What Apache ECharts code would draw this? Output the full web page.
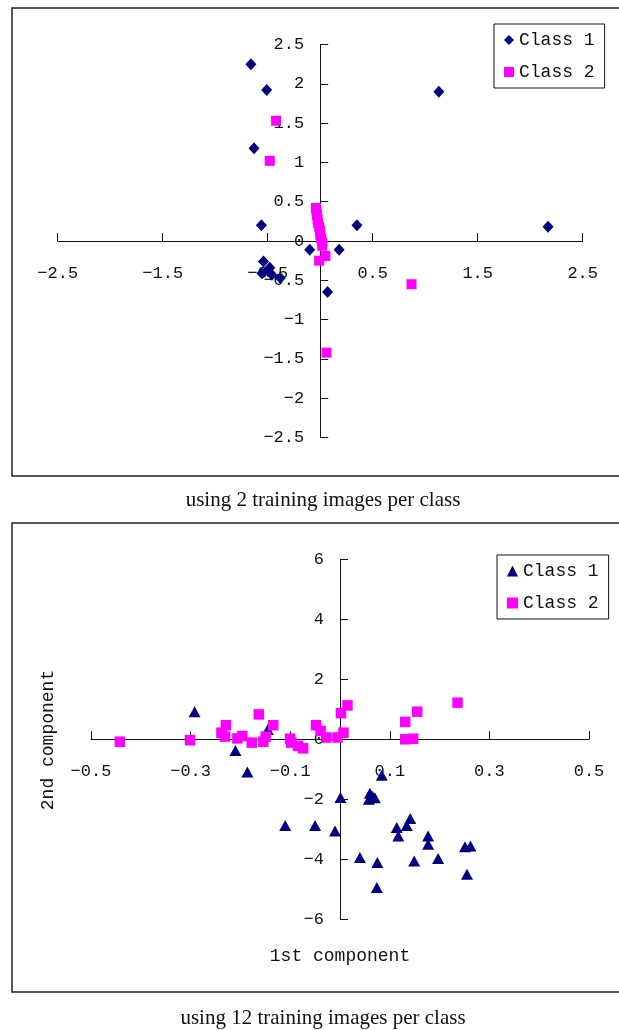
<!DOCTYPE html>
<html>
<head>
<meta charset="utf-8">
<script src="https://cdn.jsdelivr.net/npm/echarts@6/dist/echarts.min.js"></script>
<style>
html,body{margin:0;padding:0;background:#fff;}
#chart{width:619px;height:1030px;}
</style>
</head>
<body>
<div id="chart"></div>
<script>
// ---------- data ----------
const seriesNames = ['Class 1', 'Class 2'];

// Top panel: 2 training images per class  [x, y]
const topClass1 = [
  [-0.66, 2.25], [-0.51, 1.92], [-0.63, 1.18], [-0.56, 0.20], [1.13, 1.90],
  [2.17, 0.18], [0.35, 0.20], [-0.10, -0.11], [0.18, -0.11], [0.07, -0.65],
  [-0.54, -0.26], [-0.48, -0.34], [-0.555, -0.41], [-0.46, -0.43], [-0.38, -0.47],
  [-0.50, -0.38]
];
const topClass2 = [
  [-0.42, 1.53], [-0.48, 1.02], [-0.04, 0.42], [-0.035, 0.38], [-0.03, 0.33],
  [-0.025, 0.28], [-0.02, 0.23], [-0.01, 0.18], [0.0, 0.13], [0.0, 0.08],
  [0.01, 0.03], [0.02, -0.02], [0.02, -0.06], [0.05, -0.19], [-0.01, -0.25],
  [0.06, -1.42], [0.87, -0.55]
];

// Bottom panel: 12 training images per class  [1st component, 2nd component]
const bottomClass1 = [
  [-0.292, 0.92], [-0.21, -0.37], [-0.186, -1.09], [-0.145, 0.33], [0.084, -1.2],
  [0.06, -1.8], [0.065, -1.9], [0.07, -1.95], [0.058, -2.0], [0.001, -1.94],
  [-0.11, -2.87], [-0.05, -2.87], [-0.01, -3.06], [0.114, -2.94], [0.134, -2.87],
  [0.141, -2.64], [0.117, -3.22], [0.177, -3.22], [0.177, -3.5], [0.04, -3.94],
  [0.075, -4.11], [0.149, -4.06], [0.197, -3.97], [0.251, -3.58], [0.262, -3.56],
  [0.255, -4.5], [0.074, -4.94]
];
const bottomClass2 = [
  [-0.442, -0.08], [-0.301, -0.03], [-0.238, 0.22], [-0.229, 0.47], [-0.231, 0.09],
  [-0.206, 0.03], [-0.196, 0.11], [-0.177, -0.11], [-0.163, 0.83], [-0.154, -0.08],
  [-0.149, 0.09], [-0.134, 0.47], [-0.10, 0.02], [-0.098, -0.11], [-0.084, -0.22],
  [-0.074, -0.30], [-0.048, 0.47], [-0.039, 0.28], [-0.027, 0.06], [-0.005, 0.06],
  [0.007, 0.22], [0.002, 0.87], [0.015, 1.13], [0.131, 0.58], [0.155, 0.92],
  [0.131, 0.0], [0.147, 0.02], [0.236, 1.22]
];

// tick labels / axis ranges
const topXRange = [-2.5, 2.5];
const topYRange = [-2.5, 2.5];
const bottomXRange = [-0.5, 0.5];
const bottomYRange = [-6, 6];
const topXTicks = [-2.5, -1.5, -0.5, 0.5, 1.5, 2.5];
const topYTicks = [2.5, 2, 1.5, 1, 0.5, 0, -0.5, -1, -1.5, -2, -2.5];
const bottomXTicks = [-0.5, -0.3, -0.1, 0.1, 0.3, 0.5];
const bottomYTicks = [6, 4, 2, 0, -2, -4, -6];

const captions = ['using 2 training images per class', 'using 12 training images per class'];
const axisNames = ['1st component', '2nd component'];

// ---------- layout ----------
const NAVY = '#000080';
const MAGENTA = '#FF00FF';
const MONO = '"Liberation Mono", "DejaVu Sans Mono", monospace';
const SERIF = '"Liberation Serif", "DejaVu Serif", serif';
const fmt = v => String(+v.toFixed(2)).replace('-', '\u2212');

const grids = [
  { left: 57.7, top: 44.5, width: 525, height: 393 },
  { left: 91, top: 559.3, width: 498, height: 360 }
];
// offset that moves an edge axis onto the zero of the other axis
function zeroOffsetX(g, yr) { // x axis at bottom -> move up to y=0
  return -g.height * (0 - yr[0]) / (yr[1] - yr[0]);
}
function zeroOffsetY(g, xr) { // y axis at left -> move right to x=0
  return -g.width * (0 - xr[0]) / (xr[1] - xr[0]);
}

function xAxisCfg(grid, range, yr, ticks) {
  return {
    type: 'value', gridIndex: grid, min: range[0], max: range[1],
    position: 'bottom', offset: zeroOffsetX(grids[grid], yr),
    axisLine: { onZero: false, lineStyle: { color: '#111', width: 1 } },
    axisTick: { show: true, inside: true, length: 8, customValues: ticks, lineStyle: { color: '#111' } },
    axisLabel: { customValues: ticks, margin: 24, fontFamily: MONO, fontSize: 17, color: '#111', formatter: fmt },
    splitLine: { show: false }
  };
}
function yAxisCfg(grid, range, xr, ticks) {
  return {
    type: 'value', gridIndex: grid, min: range[0], max: range[1],
    position: 'left', offset: zeroOffsetY(grids[grid], xr),
    axisLine: { onZero: false, lineStyle: { color: '#111', width: 1 } },
    axisTick: { show: true, inside: true, length: 8, customValues: ticks, lineStyle: { color: '#111' } },
    axisLabel: { customValues: ticks, margin: 16, fontFamily: MONO, fontSize: 17, color: '#111', formatter: fmt },
    splitLine: { show: false }
  };
}

const chart = echarts.init(document.getElementById('chart'), null, { renderer: 'canvas' });

const option = {
  animation: false,
  backgroundColor: '#fff',
  grid: grids.map(g => Object.assign({ containLabel: false, outerBoundsMode: 'none' }, g)),
  xAxis: [
    xAxisCfg(0, topXRange, topYRange, topXTicks),
    xAxisCfg(1, bottomXRange, bottomYRange, bottomXTicks)
  ],
  yAxis: [
    yAxisCfg(0, topYRange, topXRange, topYTicks),
    yAxisCfg(1, bottomYRange, bottomXRange, bottomYTicks)
  ],
  legend: [
    {
      orient: 'vertical', left: 494, top: 24,
      padding: [7, 10, 7, 10], itemGap: 14, itemWidth: 10, itemHeight: 10,
      borderColor: '#111', borderWidth: 1, backgroundColor: '#fff',
      textStyle: { fontFamily: MONO, fontSize: 18, color: '#111' },
      data: [{ name: seriesNames[0], icon: 'diamond' }, { name: seriesNames[1], icon: 'rect' }],
      selectedMode: false
    },
    {
      orient: 'vertical', left: 497, top: 555,
      padding: [7, 10, 7, 10], itemGap: 14, itemWidth: 11, itemHeight: 11,
      borderColor: '#111', borderWidth: 1, backgroundColor: '#fff',
      textStyle: { fontFamily: MONO, fontSize: 18, color: '#111' },
      data: [{ name: seriesNames[0], icon: 'triangle' }, { name: seriesNames[1], icon: 'rect' }],
      selectedMode: false
    }
  ],
  series: [
    { name: seriesNames[0], type: 'scatter', xAxisIndex: 0, yAxisIndex: 0, symbol: 'diamond', symbolSize: [11, 12],
      itemStyle: { color: NAVY, opacity: 1 }, data: topClass1, z: 3 },
    { name: seriesNames[1], type: 'scatter', xAxisIndex: 0, yAxisIndex: 0, symbol: 'rect', symbolSize: 10,
      itemStyle: { color: MAGENTA, opacity: 1 }, data: topClass2, z: 3 },
    { name: seriesNames[0], type: 'scatter', xAxisIndex: 1, yAxisIndex: 1, symbol: 'triangle', symbolSize: [12, 11],
      itemStyle: { color: NAVY, opacity: 1 }, data: bottomClass1, z: 3 },
    { name: seriesNames[1], type: 'scatter', xAxisIndex: 1, yAxisIndex: 1, symbol: 'rect', symbolSize: 10.5,
      itemStyle: { color: MAGENTA, opacity: 1 }, data: bottomClass2, z: 3 }
  ],
  graphic: [
    { type: 'rect', shape: { x: 12, y: 8, width: 620, height: 468 }, style: { fill: 'none', stroke: '#222', lineWidth: 1.5 }, z: 0, silent: true },
    { type: 'rect', shape: { x: 12, y: 523, width: 620, height: 469 }, style: { fill: 'none', stroke: '#222', lineWidth: 1.5 }, z: 0, silent: true },
    { type: 'text', x: 323, y: 500, style: { text: captions[0], font: '21px ' + SERIF, fill: '#111', textAlign: 'center', textVerticalAlign: 'middle' } },
    { type: 'text', x: 323, y: 1018, style: { text: captions[1], font: '21px ' + SERIF, fill: '#111', textAlign: 'center', textVerticalAlign: 'middle' } },
    { type: 'text', x: 340, y: 956, style: { text: axisNames[0], font: '18px ' + MONO, fill: '#111', textAlign: 'center', textVerticalAlign: 'middle' } },
    { type: 'text', x: 48, y: 740, rotation: Math.PI / 2, style: { text: axisNames[1], font: '18px ' + MONO, fill: '#111', textAlign: 'center', textVerticalAlign: 'middle' } }
  ]
};
chart.setOption(option);
</script>
</body>
</html>
